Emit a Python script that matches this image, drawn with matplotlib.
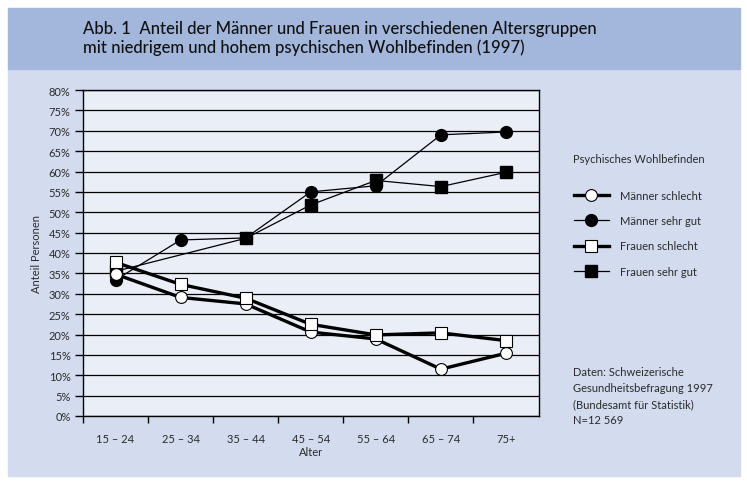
import matplotlib.pyplot as plt
from matplotlib.patches import Rectangle

plt.rcParams['font.family'] = ['Lato', 'DejaVu Sans']

# data (share in %)
age_groups = ["15 – 24", "25 – 34", "35 – 44", "45 – 54", "55 – 64", "65 – 74", "75+"]
maenner_schlecht = [34.8, 29.1, 27.5, 20.6, 18.9, 11.5, 15.4]
maenner_sehr_gut = [33.4, 43.2, 43.7, 55.0, 56.5, 69.0, 69.7]
frauen_schlecht = [37.7, 32.3, 28.9, 22.5, 19.9, 20.4, 18.5]
frauen_sehr_gut = [35.5, None, 43.6, 51.8, 57.8, 56.3, 59.8]
y_ticks = list(range(0, 85, 5))

HEADER = "#a3b7dc"
BODY = "#d3dcee"
PLOT_BG = "#eaeef7"
TXT = "#2a2a2a"

fig = plt.figure(figsize=(7.47, 4.89), dpi=100)
W, H = 747, 489

# background panels
fig.add_artist(Rectangle((8 / W, 1 - 477 / H), 732 / W, 407 / H,
                         transform=fig.transFigure, color=BODY, zorder=0))
fig.add_artist(Rectangle((8 / W, 1 - 70 / H), 732 / W, 61 / H,
                         transform=fig.transFigure, color=HEADER, zorder=0))

fig.text(83 / W, 1 - 29 / H, "Abb. 1  Anteil der Männer und Frauen in verschiedenen Altersgruppen",
         fontsize=12, color="#111111", va="center", ha="left", fontweight="medium")
fig.text(83 / W, 1 - 48 / H, "mit niedrigem und hohem psychischen Wohlbefinden (1997)",
         fontsize=12, color="#111111", va="center", ha="left", fontweight="medium")

ax = fig.add_axes([83 / W, 1 - 417 / H, 455.5 / W, 326 / H])
ax.set_facecolor(PLOT_BG)

x = list(range(len(age_groups)))

# frauen sehr gut has a gap at 25-34 in the source, skip it in the line
fsg_x = [i for i, v in zip(x, frauen_sehr_gut) if v is not None]
fsg_y = [v for v in frauen_sehr_gut if v is not None]

h2, = ax.plot(x, maenner_sehr_gut, color="black", lw=0.9, marker="o", ms=8.5,
              mfc="black", mec="black", label="Männer sehr gut", zorder=3)
h4, = ax.plot(fsg_x, fsg_y, color="black", lw=0.9, marker="s", ms=8,
              mfc="black", mec="black", label="Frauen sehr gut", zorder=3)
h1, = ax.plot(x, maenner_schlecht, color="black", lw=2.4, marker="o", ms=8.5,
              mfc="white", mec="black", mew=0.8, label="Männer schlecht", zorder=4)
h3, = ax.plot(x, frauen_schlecht, color="black", lw=2.4, marker="s", ms=8,
              mfc="white", mec="black", mew=0.8, label="Frauen schlecht", zorder=4)

ax.set_xlim(-0.5, len(age_groups) - 0.5)
ax.set_ylim(0, 80)
ax.set_yticks(y_ticks)
ax.set_yticklabels([f"{t}%" for t in y_ticks])
ax.yaxis.grid(True, color="black", lw=0.9)
ax.set_axisbelow(True)

ax.set_xticks(x)
ax.set_xticklabels(age_groups)
ax.set_xticks([i + 0.5 for i in range(-1, len(age_groups) - 1)], minor=True)
ax.tick_params(axis="x", which="major", length=0, pad=12, labelsize=8, labelcolor=TXT)
ax.tick_params(axis="x", which="minor", length=5, width=1, direction="out")
ax.tick_params(axis="y", length=6, width=1, direction="out", pad=3, labelsize=8, labelcolor=TXT)

for s in ax.spines.values():
    s.set_color("black")
    s.set_linewidth(1)

ax.set_xlabel("Alter", fontsize=8, color=TXT, labelpad=2)
ax.set_ylabel("Anteil Personen", fontsize=8, color=TXT, labelpad=5)

# legend
fig.text(573 / W, 1 - 160 / H, "Psychisches Wohlbefinden", fontsize=8, color=TXT,
         va="center", ha="left")
leg = fig.legend(handles=[h1, h2, h3, h4], loc="upper left",
                 bbox_to_anchor=(568 / W, 1 - 185 / H), frameon=False,
                 fontsize=8, handlelength=3.2, handletextpad=1.0,
                 labelspacing=1.3, borderpad=0)
for t in leg.get_texts():
    t.set_color(TXT)

source_lines = ["Daten: Schweizerische", "Gesundheitsbefragung 1997",
                "(Bundesamt für Statistik)", "N=12 569"]
for i, line in enumerate(source_lines):
    fig.text(573 / W, 1 - (373 + 16 * i) / H, line, fontsize=8, color=TXT,
             va="center", ha="left")

fig.savefig("out.png", dpi=100, facecolor="white")
